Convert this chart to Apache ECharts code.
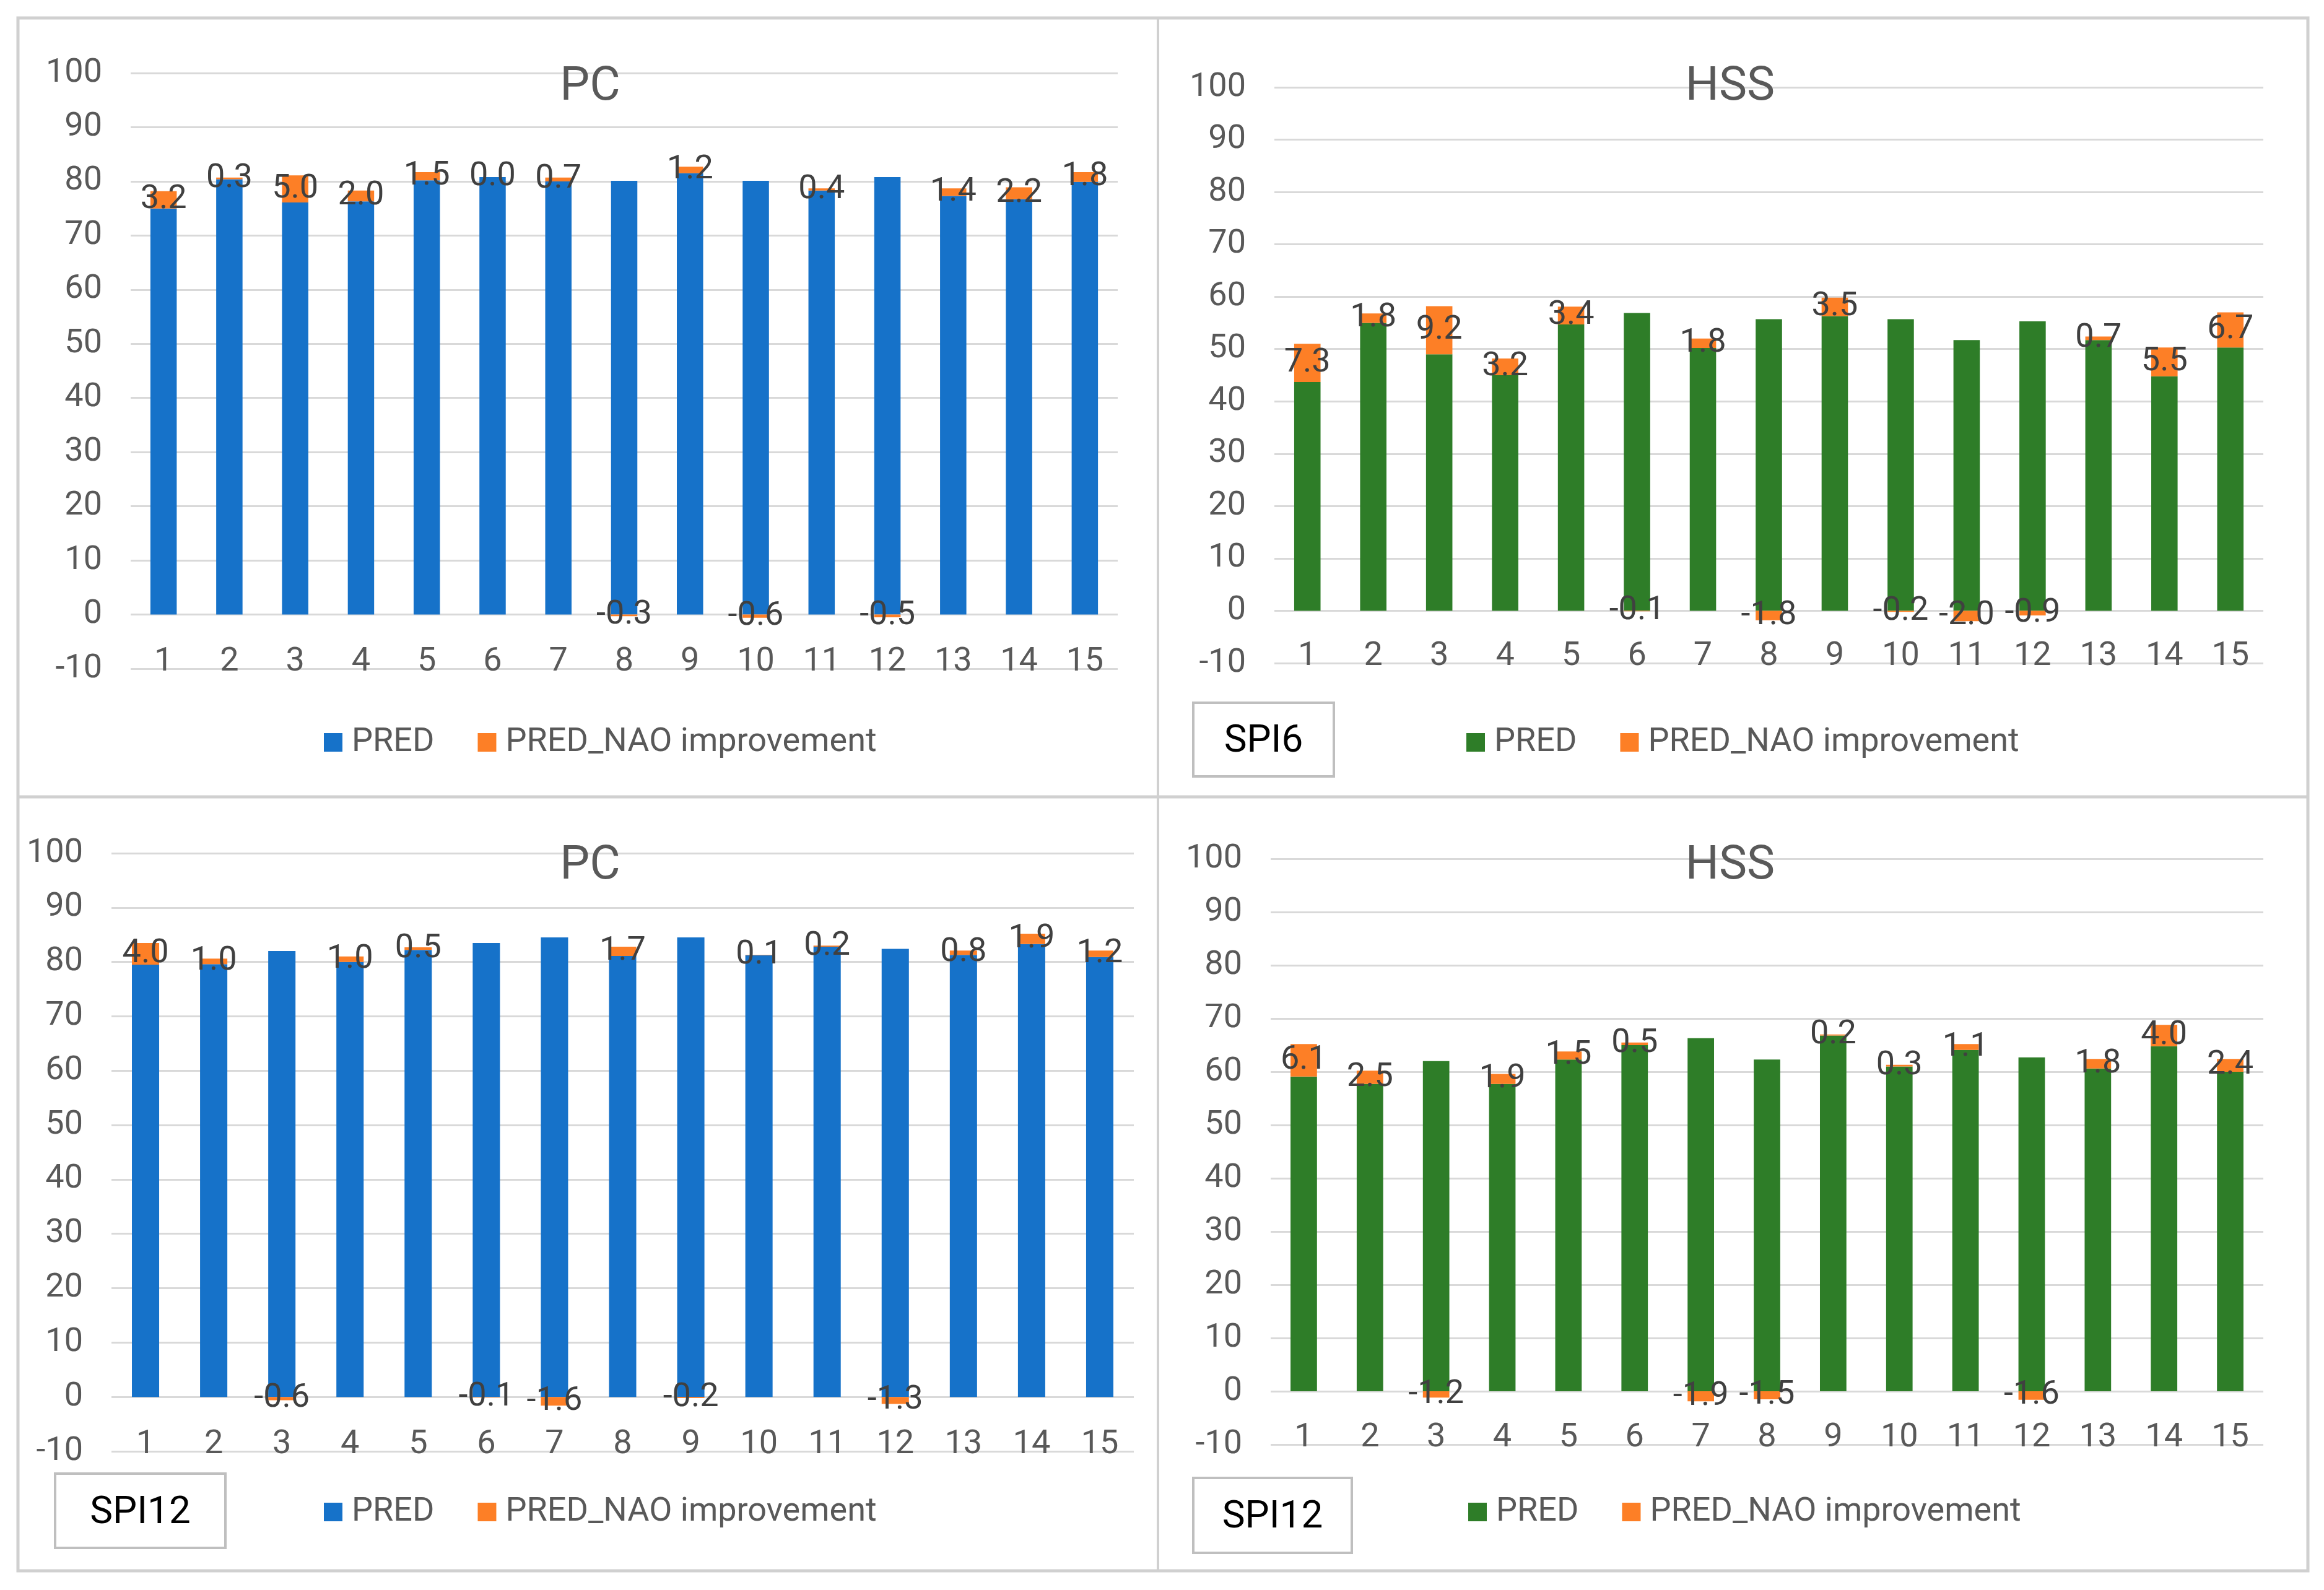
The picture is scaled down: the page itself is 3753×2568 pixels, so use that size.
<!DOCTYPE html>
<html>
<head>
<meta charset="utf-8">
<title>PC / HSS</title>
<script src="https://cdn.jsdelivr.net/npm/echarts@6/dist/echarts.min.js"></script>
<style>
	html, body { margin: 0; padding: 0; background: #fff; }
	#myChart { width: 3753px; height: 2568px; }
</style>
</head>
<body>
<div id="myChart"></div>
<script>
// 横轴 1..15
var cats = [ '1', '2', '3', '4', '5', '6', '7', '8', '9', '10', '11', '12', '13', '14', '15' ];
var yTicks = { min : -10, max : 100, step : 10 };

// SPI6
var pcSpi6Pred = [ 75.0, 80.4, 76.1, 76.3, 80.2, 80.8, 80.0, 80.1, 81.5, 80.1, 78.3, 80.8, 77.3, 76.7, 79.9 ];
var pcSpi6Imp = [ 3.2, 0.3, 5.0, 2.0, 1.5, 0.0, 0.7, -0.3, 1.2, -0.6, 0.4, -0.5, 1.4, 2.2, 1.8 ];
var hssSpi6Pred = [ 43.7, 55.0, 49.0, 45.0, 54.7, 56.9, 50.2, 55.7, 56.3, 55.7, 51.7, 55.3, 51.7, 44.8, 50.3 ];
var hssSpi6Imp = [ 7.3, 1.8, 9.2, 3.2, 3.4, -0.1, 1.8, -1.8, 3.5, -0.2, -2.0, -0.9, 0.7, 5.5, 6.7 ];

// SPI12
var pcSpi12Pred = [ 79.5, 79.6, 82.0, 80.0, 82.2, 83.5, 84.5, 81.1, 84.5, 81.2, 82.8, 82.4, 81.3, 83.3, 80.9 ];
var pcSpi12Imp = [ 4.0, 1.0, -0.6, 1.0, 0.5, -0.1, -1.6, 1.7, -0.2, 0.1, 0.2, -1.3, 0.8, 1.9, 1.2 ];
var hssSpi12Pred = [ 59.1, 57.7, 62.0, 57.7, 62.3, 65.0, 66.3, 62.3, 66.8, 61.0, 64.1, 62.7, 60.6, 64.8, 60.0 ];
var hssSpi12Imp = [ 6.1, 2.5, -1.2, 1.9, 1.5, 0.5, -1.9, -1.5, 0.2, 0.3, 1.1, -1.6, 1.8, 4.0, 2.4 ];

var BLUE = '#1672c9';
var GREEN = '#2e7d28';
var ORANGE = '#fd7f26';
var FONT = 'Roboto, "Liberation Sans", sans-serif';

// 四个面板的位置
var panels = [
	{ title : 'PC', pred : pcSpi6Pred, imp : pcSpi6Imp, color : BLUE,
		grid : { left : 211, top : 118, width : 1594, height : 962 }, titleX : 953, titleY : 104,
		legendX : 523, legendY : 1172 },
	{ title : 'HSS', pred : hssSpi6Pred, imp : hssSpi6Imp, color : GREEN,
		grid : { left : 2058, top : 141, width : 1597, height : 930 }, titleX : 2794, titleY : 104,
		legendX : 2368, legendY : 1172 },
	{ title : 'PC', pred : pcSpi12Pred, imp : pcSpi12Imp, color : BLUE,
		grid : { left : 180, top : 1378, width : 1651, height : 966 }, titleX : 953, titleY : 1362,
		legendX : 523, legendY : 2415 },
	{ title : 'HSS', pred : hssSpi12Pred, imp : hssSpi12Imp, color : GREEN,
		grid : { left : 2052, top : 1387, width : 1603, height : 946 }, titleX : 2794, titleY : 1362,
		legendX : 2371, legendY : 2415 }
];

function boxText(x, y, w, h, txt) {
	return {
		type : 'group',
		children : [ {
			type : 'rect',
			shape : { x : x, y : y, width : w, height : h },
			style : { fill : '#fff', stroke : '#bfbfbf', lineWidth : 4 }
		}, {
			type : 'text',
			x : x + w / 2,
			y : y + h / 2 + 4,
			style : {
				text : txt,
				fill : '#000',
				font : '62px ' + FONT,
				textAlign : 'center',
				textVerticalAlign : 'middle'
			}
		} ]
	};
}

function showCharts() {
	var myChart = echarts.init(document.getElementById('myChart'));
	var title = [], grid = [], xAxis = [], yAxis = [], legend = [], series = [];
	for (var i = 0; i < panels.length; i++) {
		var p = panels[i];
		title.push({
			text : p.title,
			left : p.titleX,
			top : p.titleY,
			textAlign : 'center',
			padding : 0,
			textStyle : { fontFamily : FONT, fontSize : 76, fontWeight : 'normal', color : '#595959' }
		});
		grid.push(p.grid);
		xAxis.push({
			type : 'category',
			gridIndex : i,
			data : cats,
			axisLine : { show : false, onZero : false },
			axisTick : { show : false },
			axisLabel : {
				fontFamily : FONT,
				fontSize : 54,
				color : '#595959',
				verticalAlign : 'bottom',
				margin : 16
			}
		});
		yAxis.push({
			type : 'value',
			gridIndex : i,
			min : yTicks.min,
			max : yTicks.max,
			interval : yTicks.step,
			axisLine : { show : false },
			axisTick : { show : false },
			axisLabel : { fontFamily : FONT, fontSize : 54, color : '#595959', margin : 46 },
			splitLine : { lineStyle : { color : '#d9d9d9', width : 3 } }
		});
		legend.push({
			left : p.legendX,
			top : p.legendY,
			padding : 0,
			itemWidth : 30,
			itemHeight : 30,
			itemGap : 70,
			selectedMode : false,
			icon : 'rect',
			textStyle : { fontFamily : FONT, fontSize : 54, color : '#595959', padding : [ 0, 0, 0, 10 ] },
			data : [ { name : 'PRED', itemStyle : { color : p.color } },
					{ name : 'PRED_NAO improvement', itemStyle : { color : ORANGE } } ]
		});
		series.push({
			name : 'PRED',
			type : 'bar',
			xAxisIndex : i,
			yAxisIndex : i,
			stack : 'p' + i,
			barWidth : '40%',
			itemStyle : { color : p.color },
			data : p.pred
		});
		series.push({
			name : 'PRED_NAO improvement',
			type : 'bar',
			xAxisIndex : i,
			yAxisIndex : i,
			stack : 'p' + i,
			barWidth : '40%',
			itemStyle : { color : ORANGE },
			label : {
				show : true,
				position : 'inside',
				fontFamily : FONT,
				fontSize : 54,
				color : '#404040',
				formatter : function(params) {
					return params.value.toFixed(1);
				}
			},
			data : p.imp
		});
	}
	myChart.setOption({
		animation : false,
		title : title,
		grid : grid,
		xAxis : xAxis,
		yAxis : yAxis,
		legend : legend,
		series : series,
		graphic : [ {
			type : 'rect',
			shape : { x : 29, y : 29, width : 3698, height : 2508 },
			style : { fill : 'none', stroke : '#d0d0d0', lineWidth : 5 }
		}, {
			type : 'line',
			shape : { x1 : 1870, y1 : 29, x2 : 1870, y2 : 2537 },
			style : { stroke : '#d0d0d0', lineWidth : 4 }
		}, {
			type : 'line',
			shape : { x1 : 29, y1 : 1287, x2 : 3727, y2 : 1287 },
			style : { stroke : '#d0d0d0', lineWidth : 5 }
		},
		boxText(1927, 1135, 227, 119, 'SPI6'),
		boxText(89, 2380, 275, 120, 'SPI12'),
		boxText(1927, 2387, 256, 121, 'SPI12') ]
	});
}
showCharts();
</script>
</body>
</html>
